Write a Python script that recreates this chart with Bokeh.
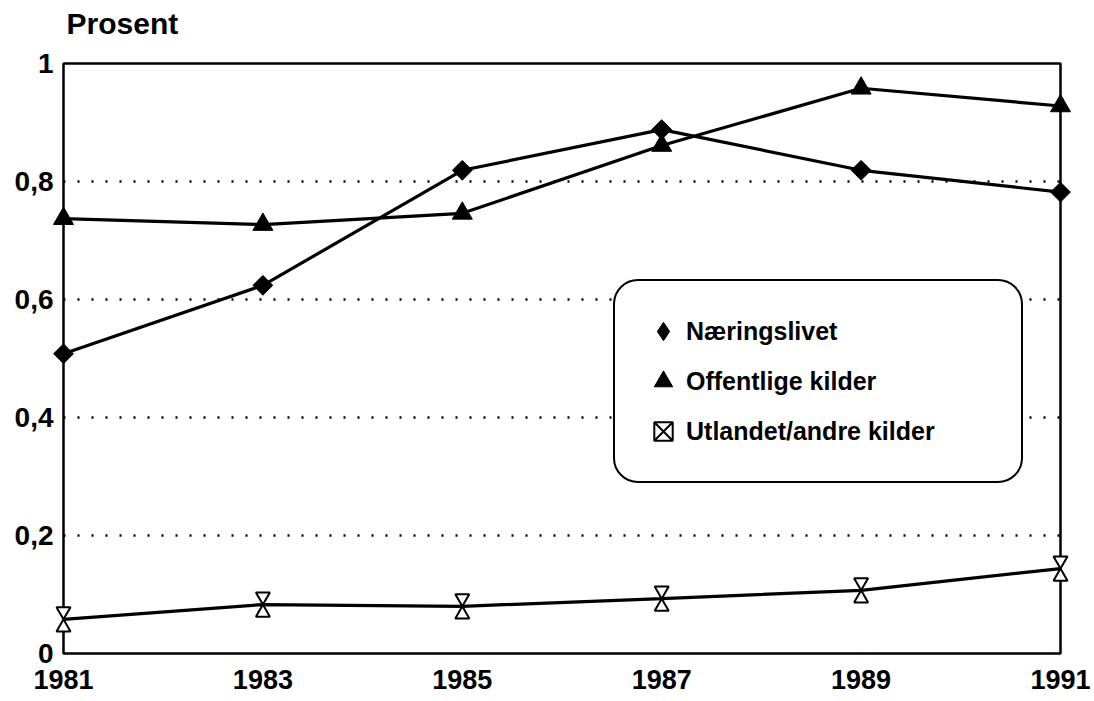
import math
from bokeh.plotting import figure
from bokeh.models import Range1d, FixedTicker, Legend, LegendItem, ColumnDataSource, LinearAxis
from bokeh.transform import dodge
from bokeh.embed import file_html
from bokeh.resources import INLINE

# ---- data ----
years = [1981, 1983, 1985, 1987, 1989, 1991]
naeringslivet = [0.508, 0.624, 0.819, 0.888, 0.819, 0.782]
offentlige = [0.737, 0.727, 0.746, 0.861, 0.958, 0.928]
utlandet = [0.058, 0.083, 0.080, 0.093, 0.107, 0.144]
series_names = ["Næringslivet", "Offentlige kilder", "Utlandet/andre kilder"]
y_ticks = [0, 0.2, 0.4, 0.6, 0.8, 1]
y_tick_labels = ["0", "0,2", "0,4", "0,6", "0,8", "1"]
grid_ticks = [0.2, 0.4, 0.6, 0.8]
axis_title = "Prosent"

FONT = "Liberation Sans"
NAN = float("nan")

p = figure(frame_width=997, frame_height=590,
           x_range=Range1d(years[0], years[-1]), y_range=Range1d(y_ticks[0], y_ticks[-1]),
           output_backend="svg", toolbar_location=None,
           min_border_left=63, min_border_right=34, min_border_top=63, min_border_bottom=48,
           background_fill_color="white", border_fill_color="white")

xa = p.below[0]
ya = p.left[0]

# title "Prosent" (left aligned over the frame)
p.title.text = axis_title
p.title.text_font = FONT
p.title.text_font_size = "30px"
p.title.text_font_style = "bold"
p.title.text_color = "black"
p.title.align = "left"
p.title.offset = 3
p.title.vertical_align = "bottom"
try:
    p.title.standoff = 0
except Exception:
    pass

# axes
for ax in [xa, ya]:
    ax.axis_line_color = None
    ax.major_tick_line_color = None
    ax.minor_tick_line_color = None
    ax.major_tick_in = 0
    ax.major_tick_out = 0
    ax.major_label_text_font = FONT
    ax.major_label_text_font_style = "bold"
    ax.major_label_text_color = "black"
xa.major_label_text_font_size = "27px"
ya.major_label_text_font_size = "28px"
xa.ticker = FixedTicker(ticks=years)
xa.major_label_standoff = 16
ya.ticker = FixedTicker(ticks=y_ticks)
ya.major_label_overrides = {t: l for t, l in zip(y_ticks, y_tick_labels)}
ya.major_label_standoff = 10

# invisible spacer axis between title and frame (one hidden tick gives it height)
spacer = LinearAxis(ticker=FixedTicker(ticks=[years[0]]), axis_line_color=None,
                    major_tick_line_color=None, minor_tick_line_color=None,
                    major_tick_in=0, major_tick_out=24, minor_tick_in=0, minor_tick_out=0,
                    major_label_standoff=0, major_label_text_font_size="0px",
                    major_label_text_alpha=0.0,
                    major_label_overrides={years[0]: ""})
p.add_layout(spacer, "above")

# grid
p.xgrid.grid_line_color = None
p.ygrid.ticker = FixedTicker(ticks=grid_ticks)
p.ygrid.grid_line_color = "black"
p.ygrid.grid_line_dash = "2 12"
p.ygrid.grid_line_width = 2.5

p.outline_line_color = "black"
p.outline_line_width = 2.5
p.outline_line_alpha = 1.0

src = ColumnDataSource(dict(year=years, n=naeringslivet, o=offentlige, u=utlandet))

LW = 3.2
p.line("year", "n", source=src, line_color="black", line_width=LW, level="overlay")
p.scatter("year", "n", source=src, marker="square", angle=math.pi / 4, size=14,
          fill_color="black", line_color="black", level="overlay")

p.line("year", "o", source=src, line_color="black", line_width=LW, level="overlay")
mk2 = p.scatter("year", "o", source=src, marker="triangle", size=20,
                fill_color="black", line_color="black", level="overlay")

p.line("year", "u", source=src, line_color="black", line_width=LW, level="overlay")
off = 0.0137
p.scatter(x="year", y=dodge("u", -off, range=p.y_range), source=src, marker="triangle", size=14,
          fill_color="white", line_color="black", line_width=2, level="overlay")
p.scatter(x="year", y=dodge("u", off, range=p.y_range), source=src, marker="inverted_triangle", size=14,
          fill_color="white", line_color="black", line_width=2, level="overlay")

# legend-only samples (no visible points)
lg1 = p.scatter(x=[NAN], y=[NAN], marker="diamond", size=20,
                fill_color="black", line_color="black")
lg3 = p.scatter(x=[NAN], y=[NAN], marker="square_x", size=14,
                fill_color="white", line_color="black", line_width=2)

legend = Legend(items=[LegendItem(label=series_names[0], renderers=[lg1]),
                       LegendItem(label=series_names[1], renderers=[mk2]),
                       LegendItem(label=series_names[2], renderers=[lg3])],
                location=(550, 170), padding=25, spacing=0, margin=0,
                glyph_width=46, glyph_height=50, label_height=50, label_width=310,
                label_standoff=0,
                label_text_font=FONT, label_text_font_size="25px",
                label_text_font_style="bold", label_text_color="black",
                border_line_color="black", border_line_width=2.5, border_line_alpha=1.0,
                background_fill_color="white", background_fill_alpha=1.0)
try:
    legend.border_radius = 25
except Exception:
    pass
p.add_layout(legend)

open("out.html", "w").write(file_html(p, INLINE))
